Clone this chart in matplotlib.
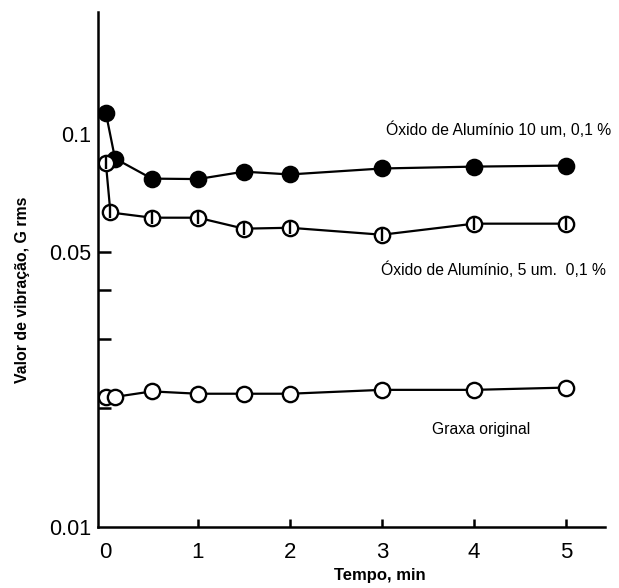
import matplotlib
matplotlib.use("Agg")
import matplotlib.pyplot as plt
from matplotlib.ticker import FixedLocator, NullFormatter

plt.rcParams['font.family'] = ['Liberation Sans', 'DejaVu Sans']

# Data
t_10um = [0.0, 0.1, 0.5, 1.0, 1.5, 2.0, 3.0, 4.0, 5.0]
v_10um = [0.113, 0.0864, 0.0768, 0.0766, 0.080, 0.0787, 0.0815, 0.0824, 0.0829]

t_5um = [0.0, 0.05, 0.5, 1.0, 1.5, 2.0, 3.0, 4.0, 5.0]
v_5um = [0.0844, 0.063, 0.0611, 0.0611, 0.0573, 0.0576, 0.0553, 0.059, 0.059]

t_orig = [0.0, 0.1, 0.5, 1.0, 1.5, 2.0, 3.0, 4.0, 5.0]
v_orig = [0.0214, 0.0214, 0.0221, 0.0218, 0.0218, 0.0218, 0.0223, 0.0223, 0.0226]

label_10um = "Óxido de Alumínio 10 um, 0,1 %"
label_5um = "Óxido de Alumínio, 5 um.  0,1 %"
label_orig = "Graxa original"

xticks = [0, 1, 2, 3, 4, 5]
xtick_labels = ["0", "1", "2", "3", "4", "5"]
yticks = [0.01, 0.05, 0.1]
ytick_labels = ["0.01", "0.05", "0.1"]
y_minor = [0.02, 0.03, 0.04, 0.05]
x_minor = [1, 2, 3, 4, 5]

fig = plt.figure(figsize=(6.19, 5.88), dpi=100)
ax = fig.add_axes([0.158, 0.104, 0.819, 0.876])

lw = 1.6
ms = 11
mew = 1.7

ax.plot(t_10um, v_10um, '-', color='black', lw=lw, marker='o', ms=ms,
        mfc='black', mec='black', mew=mew, zorder=3)
ax.plot(t_5um, v_5um, '-', color='black', lw=lw, marker='o', ms=ms,
        mfc='white', mec='black', mew=mew, zorder=3)
ax.plot(t_5um, v_5um, linestyle='none', marker='|', ms=ms * 0.8,
        mec='black', mew=mew, zorder=4)
ax.plot(t_orig, v_orig, '-', color='black', lw=lw, marker='o', ms=ms,
        mfc='white', mec='black', mew=mew, zorder=3)

ax.set_yscale('log')
ax.set_xlim(-0.087, 5.42)
ax.set_ylim(0.01, 0.204)

ax.spines['top'].set_visible(False)
ax.spines['right'].set_visible(False)
for s in ['left', 'bottom']:
    ax.spines[s].set_linewidth(1.8)

ax.yaxis.remove_overlapping_locs = False
ax.xaxis.remove_overlapping_locs = False

ax.yaxis.set_major_locator(FixedLocator(yticks))
ax.set_yticklabels(ytick_labels)
ax.yaxis.set_minor_locator(FixedLocator(y_minor))
ax.yaxis.set_minor_formatter(NullFormatter())
ax.tick_params(axis='y', which='major', length=0, pad=5, labelsize=15.5)
ax.tick_params(axis='y', which='minor', direction='in', length=9.5, width=1.8)

ax.xaxis.set_major_locator(FixedLocator(xticks))
ax.set_xticklabels(xtick_labels)
ax.xaxis.set_minor_locator(FixedLocator(x_minor))
ax.xaxis.set_minor_formatter(NullFormatter())
ax.tick_params(axis='x', which='major', length=0, pad=11, labelsize=16)
ax.tick_params(axis='x', which='minor', direction='in', length=6, width=1.8)

ax.text(3.04, 0.1024, label_10um, fontsize=11.3, ha='left', va='center')
ax.text(2.99, 0.0451, label_5um, fontsize=11.3, ha='left', va='center')
ax.text(3.54, 0.01766, label_orig, fontsize=11.3, ha='left', va='center')

ax.set_ylabel("Valor de vibração, G rms", fontsize=11.4, fontweight='bold')
ax.yaxis.set_label_coords(-0.134, 0.46)
fig.text(0.614, 0.022, "Tempo, min", fontsize=12, fontweight='bold', ha='center', va='center')

fig.savefig("out.png", dpi=100)
